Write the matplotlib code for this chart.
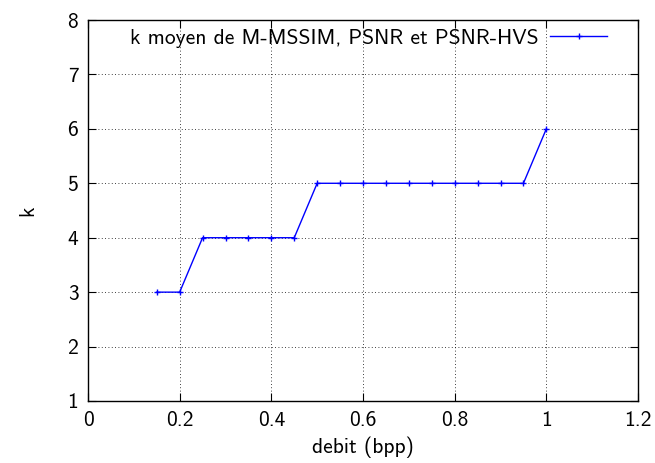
import matplotlib
matplotlib.use("Agg")
import matplotlib.pyplot as plt

# debit (bpp) against mean k
debit = [0.15, 0.2, 0.25, 0.3, 0.35, 0.4, 0.45, 0.5, 0.55, 0.6, 0.65,
         0.7, 0.75, 0.8, 0.85, 0.9, 0.95, 1.0]
k_moyen = [3, 3, 4, 4, 4, 4, 4, 5, 5, 5, 5, 5, 5, 5, 5, 5, 5, 6]

plt.rcParams['font.family'] = ['cmss10', 'DejaVu Sans']
plt.rcParams['axes.unicode_minus'] = False

fs = 15.5
fig = plt.figure(figsize=(6.55, 4.63), dpi=100)
ax = fig.add_axes([88 / 655, 62 / 463, 550 / 655, 381 / 463])

ax.plot(debit, k_moyen, color='#0000ff', lw=1, marker='+', ms=5, mew=1,
        label='k moyen de M-MSSIM, PSNR et PSNR-HVS')

ax.set_xlim(0, 1.2)
ax.set_ylim(1, 8)
ax.set_xticks([0, 0.2, 0.4, 0.6, 0.8, 1, 1.2])
ax.set_xticklabels(['0', '0.2', '0.4', '0.6', '0.8', '1', '1.2'])
ax.set_yticks(range(1, 9))
ax.tick_params(direction='in', top=True, right=True, length=6, width=0.8,
               pad=7, labelsize=fs)
ax.grid(True, color='black', linestyle=(0, (1, 3)), linewidth=0.6)
for s in ax.spines.values():
    s.set_linewidth(1)

ax.set_xlabel('debit (bpp)', fontsize=fs, labelpad=5)
ax.set_ylabel('k', fontsize=fs, labelpad=22)

leg = ax.legend(loc='upper right', frameon=False, fontsize=fs,
                handlelength=2.65, handletextpad=0.55, markerfirst=False,
                borderaxespad=0.0, bbox_to_anchor=(0.96, 1.0))

fig.savefig('out.png', dpi=100)
